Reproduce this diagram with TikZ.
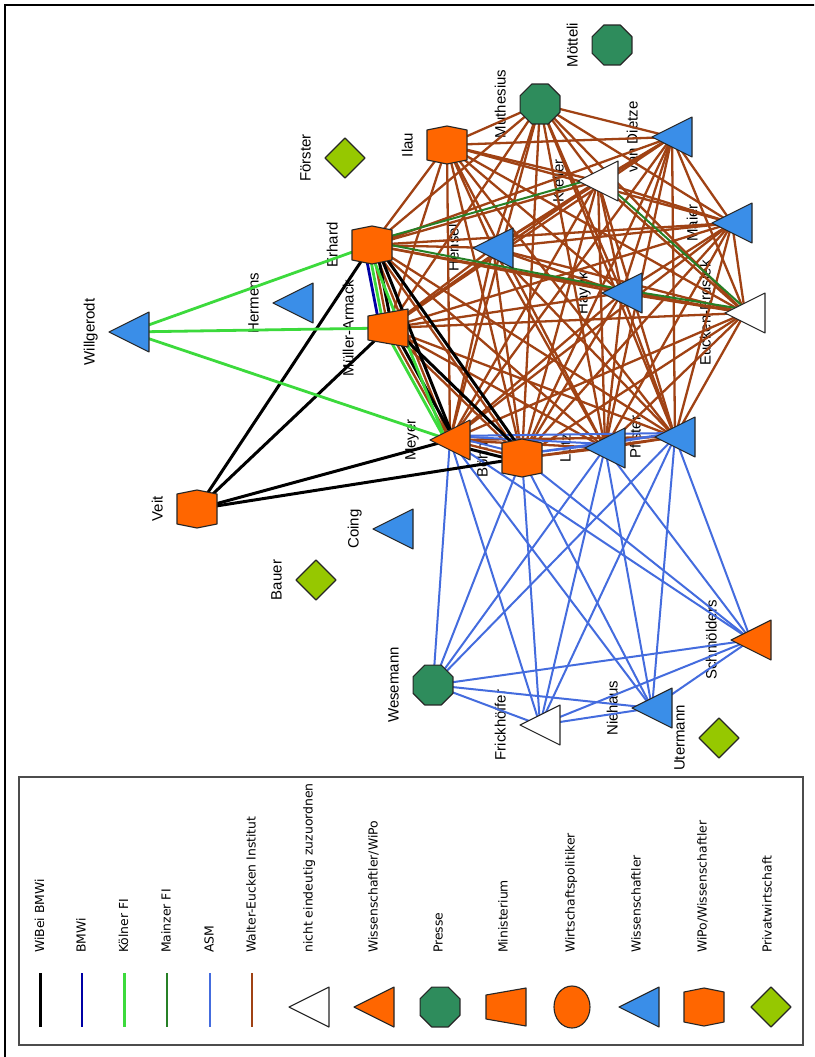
\documentclass[tikz,border=0pt]{standalone}
\usepackage{fontspec}
\setmainfont{Liberation Sans}
\newfontfamily\legendfont{DejaVu Sans}
\usetikzlibrary{calc}

\definecolor{wei}{RGB}{160,66,20}
\definecolor{asm}{RGB}{68,108,222}
\definecolor{koeln}{RGB}{60,218,60}
\definecolor{mainz}{RGB}{38,128,38}
\definecolor{bmwi}{RGB}{0,0,165}
\definecolor{nodeorange}{RGB}{255,102,0}
\definecolor{nodeblue}{RGB}{58,142,232}
\definecolor{nodegreen}{RGB}{46,140,92}
\definecolor{nodelime}{RGB}{150,200,0}

\tikzset{
  lwibei/.style={draw=black, line width=3pt},
  lbmwi/.style={draw=bmwi, line width=2.8pt},
  lkoeln/.style={draw=koeln, line width=2.8pt},
  lmainz/.style={draw=mainz, line width=2pt},
  lasm/.style={draw=asm, line width=2pt},
  lwei/.style={draw=wei, line width=2.3pt},
  shapeline/.style={draw=black!85, line width=1.1pt, line join=round},
  lbl/.style={rotate=90, anchor=mid, inner sep=0pt, font=\fontsize{15}{18}\selectfont},
  legendlbl/.style={rotate=90, anchor=mid west, inner sep=0pt, font=\legendfont\fontsize{12.4}{15}\selectfont},
  pics/tri/.style={code={\path[shapeline, fill=#1] (-20,0) -- (20,-20) -- (20,20) -- cycle;}},
  pics/hexa/.style={code={\path[shapeline, fill=nodeorange] (-20,-15) -- (0,-19) -- (20,-15) -- (20,15) -- (0,19) -- (-20,15) -- cycle;}},
  pics/trap/.style={code={\path[shapeline, fill=nodeorange] (-20,-12) -- (20,-19) -- (20,19) -- (-20,12) -- cycle;}},
  pics/octo/.style={code={\path[shapeline, fill=nodegreen] (22.5:21.6) -- (67.5:21.6) -- (112.5:21.6) -- (157.5:21.6) -- (202.5:21.6) -- (247.5:21.6) -- (292.5:21.6) -- (337.5:21.6) -- cycle;}},
  pics/rhomb/.style={code={\path[shapeline, fill=nodelime] (0,-20) -- (20,0) -- (0,20) -- (-20,0) -- cycle;}},
  pics/oval/.style={code={\path[shapeline, fill=nodeorange] (0,0) ellipse [x radius=18, y radius=21];}},
}

% a connector between two named points, shifted sideways by #4 (pt)
\newcommand\tie[4]{\draw[#1] ($(#2)!#4pt!90:(#3)$) -- ($(#3)!#4pt!-90:(#2)$);}

\begin{document}
\begin{tikzpicture}[x=1pt,y=-1pt]
\useasboundingbox (0,0) rectangle (814,1057);
\clip (0,0) rectangle (814,1057);
\fill[white] (0,0) rectangle (814,1057);
\draw[line width=2.8pt] (5,1070) -- (5,5) -- (830,5);

% actors
\coordinate (Willgerodt) at (129,332);
\coordinate (Hermens) at (293,303);
\coordinate (Erhard) at (372,245);
\coordinate (Foerster) at (345,158);
\coordinate (Ilau) at (447,145);
\coordinate (MA) at (388,328);
\coordinate (Veit) at (197,509);
\coordinate (Meyer) at (450,440);
\coordinate (Coing) at (393,529);
\coordinate (Bauer) at (316,580);
\coordinate (Wesemann) at (433,685);
\coordinate (Boehm) at (522,458);
\coordinate (Lutz) at (605,448);
\coordinate (Pfister) at (675,437);
\coordinate (Schmoelders) at (751,640);
\coordinate (Frick) at (540,725);
\coordinate (Niehaus) at (652,708);
\coordinate (Utermann) at (719,738);
\coordinate (Moetteli) at (612,45);
\coordinate (Muthesius) at (540,104);
\coordinate (Dietze) at (672,137);
\coordinate (Kreller) at (598,181);
\coordinate (Hensel) at (493,248);
\coordinate (Maier) at (732,223);
\coordinate (Hayek) at (622,293);
\coordinate (Eucken) at (745,313);

% names
\foreach \n/\t in {Willgerodt/Willgerodt, Hermens/Hermens, Erhard/Erhard, Foerster/Förster,
  Ilau/Ilau, MA/Müller-Armack, Veit/Veit, Meyer/Meyer, Coing/Coing, Bauer/Bauer,
  Wesemann/Wesemann, Boehm/Böhm, Lutz/Lutz, Pfister/Pfister, Schmoelders/Schmölders,
  Frick/Frickhöffer, Niehaus/Niehaus, Utermann/Utermann, Moetteli/Mötteli,
  Muthesius/Muthesius, Dietze/van Dietze, Kreller/Kreller, Hensel/Hensel, Maier/Maier,
  Hayek/Hayek, Eucken/Eucken-Erdsiek}
  {\node[lbl] (\n-name) at ([xshift=-37pt]\n) {\t};}

% Walter-Eucken Institut
\foreach \a [count=\i] in {Erhard,Ilau,Muthesius,Dietze,Kreller,Hensel,Maier,Hayek,Eucken,MA,Meyer,Boehm,Lutz,Pfister}
  {\foreach \b [count=\j] in {Erhard,Ilau,Muthesius,Dietze,Kreller,Hensel,Maier,Hayek,Eucken,MA,Meyer,Boehm,Lutz,Pfister}
    {\ifnum\j>\i \draw[lwei] (\a) -- (\b);\fi}}

% ASM
\foreach \a/\b/\o in {Meyer/Boehm/4, Meyer/Lutz/4, Meyer/Pfister/4, Boehm/Lutz/4,
  Boehm/Pfister/4, Lutz/Pfister/4,
  Meyer/Wesemann/0, Meyer/Frick/0, Meyer/Niehaus/0, Meyer/Schmoelders/0,
  Boehm/Wesemann/0, Boehm/Frick/0, Boehm/Niehaus/0, Boehm/Schmoelders/0,
  Lutz/Wesemann/0, Lutz/Frick/0, Lutz/Niehaus/0, Lutz/Schmoelders/0,
  Pfister/Wesemann/0, Pfister/Frick/0, Pfister/Niehaus/0, Pfister/Schmoelders/0,
  Wesemann/Frick/0, Wesemann/Niehaus/0, Wesemann/Schmoelders/0,
  Frick/Niehaus/0, Frick/Schmoelders/0, Niehaus/Schmoelders/0}
  {\tie{lasm}{\a}{\b}{\o}}

% Mainzer FI
\foreach \a/\b in {Erhard/Kreller, Erhard/Hayek, Hayek/Eucken, Kreller/Eucken}
  {\tie{lmainz}{\a}{\b}{3.5}}

% WiBei BMWi
\foreach \a/\b/\o in {Veit/Erhard/0, Veit/MA/0, Veit/Meyer/0, Veit/Boehm/0,
  Erhard/MA/4, Erhard/Meyer/4, Erhard/Boehm/4, MA/Meyer/4, MA/Boehm/4, Meyer/Boehm/-4}
  {\tie{lwibei}{\a}{\b}{\o}}

% Koelner FI
\foreach \a/\b/\o in {Willgerodt/Erhard/0, Willgerodt/MA/0, Willgerodt/Meyer/0,
  Erhard/MA/-4, Erhard/Meyer/-4, MA/Meyer/-4}
  {\tie{lkoeln}{\a}{\b}{\o}}

% BMWi
\tie{lbmwi}{Erhard}{MA}{-8}

% actor shapes
\foreach \n in {Willgerodt,Hermens,Coing,Lutz,Pfister,Niehaus,Dietze,Hensel,Maier,Hayek}
  {\pic at (\n) {tri=nodeblue};}
\foreach \n in {Meyer,Schmoelders} {\pic at (\n) {tri=nodeorange};}
\foreach \n in {Frick,Kreller,Eucken} {\pic at (\n) {tri=white};}
\foreach \n in {Erhard,Ilau,Veit,Boehm} {\pic at (\n) {hexa};}
\pic at (MA) {trap};
\foreach \n in {Wesemann,Muthesius,Moetteli} {\pic at (\n) {octo};}
\foreach \n in {Foerster,Bauer,Utermann} {\pic at (\n) {rhomb};}

% legend
\draw[draw=black!70, line width=1.2pt] (19,777) rectangle (803,1045);
\foreach \x/\s/\t in {40.5/lwibei/WiBei BMWi, 82/lbmwi/BMWi, 124.5/lkoeln/Kölner FI,
  167/lmainz/Mainzer FI, 210/lasm/ASM, 252/lwei/Walter-Eucken Institut}{
  \coordinate (key-\s-a) at (\x,973);
  \coordinate (key-\s-b) at (\x,1027);
  \draw[\s] (key-\s-a) -- (key-\s-b);
  \node[legendlbl] (key-\s-name) at ([xshift=1pt]\x,953) {\t};
}
\coordinate (key-none) at (309,1007);
\coordinate (key-sw) at (374,1007);
\coordinate (key-press) at (440,1007);
\coordinate (key-min) at (506,1007);
\coordinate (key-pol) at (572,1007);
\coordinate (key-sci) at (639,1007);
\coordinate (key-ws) at (704,1007);
\coordinate (key-priv) at (771,1007);
\pic at (key-none) {tri=white};
\pic at (key-sw) {tri=nodeorange};
\pic at (key-press) {octo};
\pic at (key-min) {trap};
\pic at (key-pol) {oval};
\pic at (key-sci) {tri=nodeblue};
\pic at (key-ws) {hexa};
\pic at (key-priv) {rhomb};
\node[legendlbl] (key-none-name) at (310,953) {nicht eindeutig zuzuordnen};
\node[legendlbl] (key-sw-name) at (375,953) {Wissenschaftler/WiPo};
\node[legendlbl] (key-press-name) at (440,953) {Presse};
\node[legendlbl] (key-min-name) at (505,953) {Ministerium};
\node[legendlbl] (key-pol-name) at (572,953) {Wirtschaftspolitiker};
\node[legendlbl] (key-sci-name) at (638,953) {Wissenschaftler};
\node[legendlbl] (key-ws-name) at (704,953) {WiPo/Wissenschaftler};
\node[legendlbl] (key-priv-name) at (769,953) {Privatwirtschaft};
\end{tikzpicture}
\end{document}
